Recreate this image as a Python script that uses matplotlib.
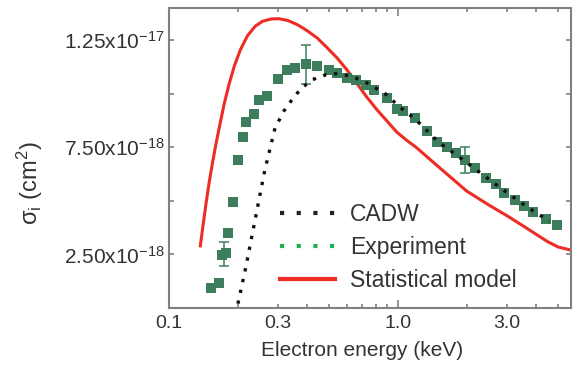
import numpy as np
import matplotlib
matplotlib.use("Agg")
import matplotlib.pyplot as plt
from matplotlib.lines import Line2D
from matplotlib.ticker import FixedLocator, FuncFormatter, NullFormatter

# ------------------------------------------------------------------
# Data (energy in keV, cross section in cm^2)

exp_energy = [0.152, 0.166, 0.171, 0.177, 0.181, 0.191, 0.200, 0.210, 0.218,
              0.235, 0.248, 0.268, 0.299, 0.327, 0.356, 0.396, 0.445, 0.499,
              0.542, 0.600, 0.658, 0.722, 0.789, 0.892, 0.987, 1.057, 1.187,
              1.34, 1.48, 1.63, 1.79, 1.96, 2.18, 2.42, 2.68, 2.91, 3.24,
              3.55, 3.89, 4.43, 4.96]
exp_sigma = [0.92e-18, 1.15e-18, 2.48e-18, 2.56e-18, 3.52e-18, 4.97e-18, 6.92e-18,
             8.0e-18, 8.7e-18, 9.05e-18, 9.69e-18, 9.87e-18, 1.069e-17, 1.112e-17,
             1.119e-17, 1.137e-17, 1.128e-17, 1.11e-17, 1.097e-17, 1.075e-17,
             1.065e-17, 1.042e-17, 1.017e-17, 9.78e-18, 9.27e-18, 9.17e-18,
             8.86e-18, 8.24e-18, 7.73e-18, 7.51e-18, 7.23e-18, 6.92e-18, 6.53e-18,
             6.06e-18, 5.79e-18, 5.36e-18, 5.05e-18, 4.78e-18, 4.5e-18, 4.14e-18,
             3.86e-18]

# points that carry an error bar
err_energy = [0.174, 0.396, 1.96]
err_sigma = [2.52e-18, 1.137e-17, 6.92e-18]
err_size = [0.55e-18, 0.92e-18, 0.6e-18]

cadw_energy = [0.200, 0.2165, 0.2375, 0.2617, 0.2905, 0.318, 0.346, 0.378, 0.422,
               0.483, 0.551, 0.63, 0.72, 0.88, 1.0, 1.2, 1.5, 2.0, 2.5, 3.0, 3.5,
               4.0, 4.6]
cadw_sigma = [0.2e-18, 1.9e-18, 4.1e-18, 6.4e-18, 8.4e-18, 9.2e-18, 9.75e-18,
              1.025e-17, 1.065e-17, 1.088e-17, 1.095e-17, 1.08e-17, 1.055e-17,
              1.0e-17, 9.45e-18, 8.78e-18, 7.75e-18, 6.78e-18, 6.0e-18, 5.38e-18,
              4.87e-18, 4.45e-18, 4.05e-18]

stat_energy = [0.137, 0.141, 0.145, 0.150, 0.155, 0.160, 0.166, 0.174, 0.183,
               0.193, 0.205, 0.220, 0.238, 0.256, 0.280, 0.302, 0.330, 0.364,
               0.40, 0.444, 0.49, 0.542, 0.60, 0.66, 0.73, 0.81, 0.90, 0.99,
               1.1, 1.2, 1.5, 2.0, 2.5, 3.0, 3.5, 4.0, 4.5, 5.0, 5.7]
stat_sigma = [2.9e-18, 3.9e-18, 4.85e-18, 5.9e-18, 6.8e-18, 7.6e-18, 8.45e-18,
              9.5e-18, 1.045e-17, 1.13e-17, 1.205e-17, 1.27e-17, 1.315e-17,
              1.338e-17, 1.349e-17, 1.35e-17, 1.342e-17, 1.322e-17, 1.295e-17,
              1.26e-17, 1.215e-17, 1.167e-17, 1.11e-17, 1.05e-17, 9.85e-18,
              9.25e-18, 8.7e-18, 8.2e-18, 7.8e-18, 7.5e-18, 6.6e-18, 5.45e-18,
              4.8e-18, 4.3e-18, 3.85e-18, 3.45e-18, 3.1e-18, 2.85e-18, 2.7e-18]

legend_labels = ['CADW', 'Experiment', 'Statistical model']

x_label_ticks = [0.1, 0.3, 1.0, 3.0]
y_label_ticks = [2.5e-18, 7.5e-18, 1.25e-17]
y_label_text = ['2.50x10$^{-18}$', '7.50x10$^{-18}$', '1.25x10$^{-17}$']
y_minor_ticks = [5e-18, 1e-17]

# ------------------------------------------------------------------
# Style

plt.rcParams['font.family'] = ['Liberation Sans', 'DejaVu Sans']
plt.rcParams['mathtext.fontset'] = 'custom'
plt.rcParams['mathtext.rm'] = 'Liberation Sans'
plt.rcParams['mathtext.it'] = 'Liberation Sans'
plt.rcParams['mathtext.default'] = 'regular'

text_col = '#333333'
frame_col = '#808080'
red = '#ee2c24'
green_sq = '#3c7d5c'
green_leg = '#1fb350'

fig = plt.figure(figsize=(5.73, 3.66), dpi=100)
ax = fig.add_axes([169 / 573, 58 / 366, 402 / 573, 300 / 366])

ax.plot(stat_energy, stat_sigma, color=red, lw=2.2, zorder=2)
ax.plot(cadw_energy, cadw_sigma, color='#111111', lw=2.4,
        linestyle=(0, (1, 2.3)), zorder=4)
ax.plot(exp_energy, exp_sigma, 's', color=green_sq, markersize=7,
        markeredgewidth=0, zorder=3)
ax.errorbar(err_energy, err_sigma, yerr=err_size, fmt='none', ecolor=green_sq,
            elinewidth=1.1, capsize=3.5, capthick=1.1, zorder=3)

ax.set_xscale('log')
ax.set_xlim(0.1, 5.7)
ax.set_ylim(0, 1.40e-17)

# x ticks: long ones at decades, labels at 0.1, 0.3, 1.0, 3.0
ax.xaxis.set_major_locator(FixedLocator([0.1, 1.0]))
ax.xaxis.set_major_formatter(FuncFormatter(lambda v, p: '%.1f' % v))
minor_x = [m * d for d in (0.1, 1.0) for m in range(2, 10)]
ax.xaxis.set_minor_locator(FixedLocator(minor_x))
ax.xaxis.set_minor_formatter(FuncFormatter(
    lambda v, p: '%.1f' % v if any(abs(v - t) < 1e-6 for t in x_label_ticks) else ''))

ax.yaxis.set_major_locator(FixedLocator(y_label_ticks))
ax.set_yticklabels(y_label_text)
ax.yaxis.set_minor_locator(FixedLocator(y_minor_ticks))
ax.yaxis.set_minor_formatter(NullFormatter())

ax.tick_params(axis='both', which='both', direction='in', top=True, right=True,
               colors=frame_col, labelcolor=text_col, width=1.2)
ax.tick_params(axis='x', which='major', length=5.5, labelsize=14, pad=5)
ax.tick_params(axis='x', which='minor', length=3, labelsize=14, pad=5)
ax.tick_params(axis='y', which='both', length=3.5, labelsize=15, pad=3)

for s in ax.spines.values():
    s.set_color(frame_col)
    s.set_linewidth(1.5)

fig.text(30 / 573, 0.5, 'σ$_i$ (cm$^2$)', rotation=90, ha='center', va='center',
         fontsize=17, color=text_col)
fig.text(362 / 573, 16 / 366, 'Electron energy (keV)', ha='center', va='center',
         fontsize=15, color=text_col)

handles = [Line2D([], [], color='#222222', lw=3, linestyle=(0, (1, 3))),
           Line2D([], [], color=green_leg, lw=3, linestyle=(0, (1, 3))),
           Line2D([], [], color=red, lw=3)]
ax.legend(handles, legend_labels, loc='upper left', bbox_to_anchor=(0.276, 0.35),
          frameon=False, fontsize=16.5, handlelength=2.4, handletextpad=0.65,
          labelspacing=0.43, borderpad=0, borderaxespad=0, labelcolor=text_col)

fig.savefig('out.png', dpi=100)
